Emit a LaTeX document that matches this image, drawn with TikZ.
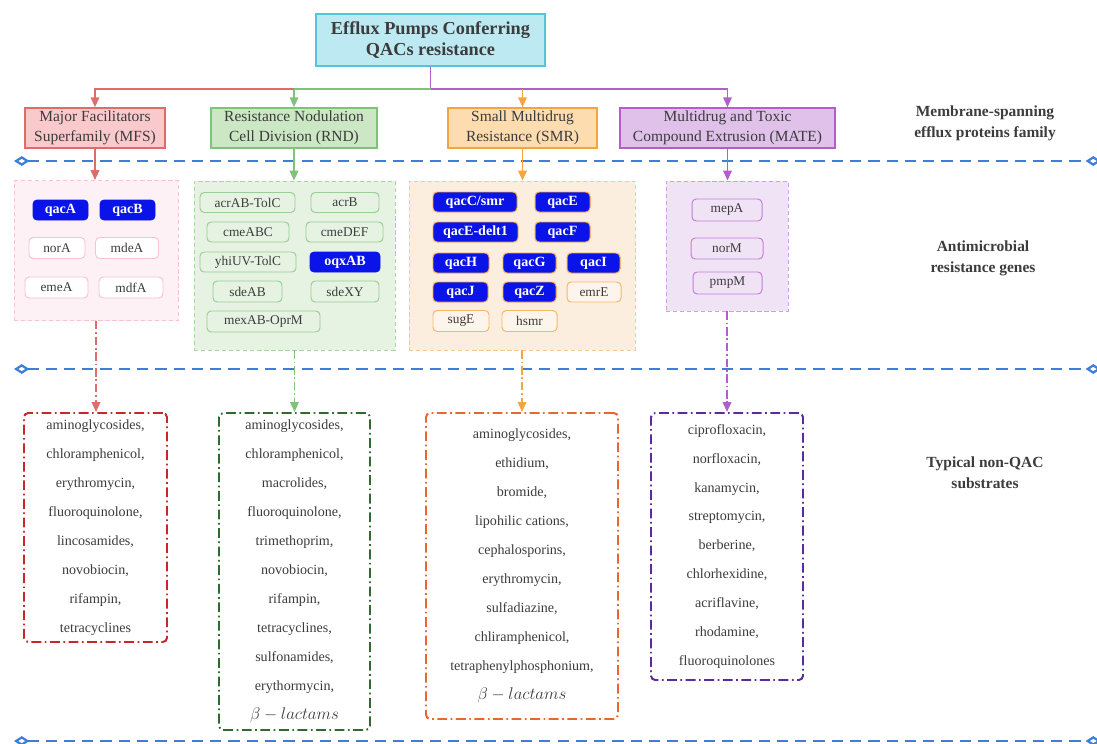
\documentclass[tikz,border=0pt]{standalone}
\usepackage{fontspec}
\setmainfont{Liberation Serif}
\usetikzlibrary{arrows.meta,calc,positioning}

\definecolor{txt}{HTML}{3C3C3C}
\definecolor{sepblue}{HTML}{3D7FD6}
\definecolor{titlefill}{HTML}{BDEAF2}
\definecolor{titleline}{HTML}{4FC6D9}
\definecolor{mfsfill}{HTML}{F9C9CC}
\definecolor{mfsline}{HTML}{E06B6B}
\definecolor{rndfill}{HTML}{CBE7C4}
\definecolor{rndline}{HTML}{7FC27A}
\definecolor{smrfill}{HTML}{FDDCB0}
\definecolor{smrline}{HTML}{F5A53F}
\definecolor{matefill}{HTML}{DFC1EA}
\definecolor{mateline}{HTML}{B25FCC}
\definecolor{mfsgfill}{HTML}{FDF1F5}
\definecolor{mfsgline}{HTML}{F7C3D3}
\definecolor{rndgfill}{HTML}{E6F3E2}
\definecolor{rndgline}{HTML}{A8D6A0}
\definecolor{smrgfill}{HTML}{FBEEDF}
\definecolor{smrgline}{HTML}{F8C88F}
\definecolor{mategfill}{HTML}{F1E3F6}
\definecolor{mategline}{HTML}{D2A0E0}
\definecolor{hitblue}{HTML}{0A14E8}
\definecolor{mfssub}{HTML}{C62828}
\definecolor{rndsub}{HTML}{2E6B30}
\definecolor{smrsub}{HTML}{E8672D}
\definecolor{matesub}{HTML}{5B2A9E}

\begin{document}
\begin{tikzpicture}[x=0.025cm, y=-0.025cm,
  >={Triangle[length=7pt,width=6pt]},
  size/.style 2 args={minimum width=#1*0.025cm, minimum height=#2*0.025cm},
  fam/.style={draw, line width=1.1pt, align=center, inner sep=0pt, text=txt,
    font=\fontsize{11}{14}\selectfont},
  grp/.style={draw, line width=0.6pt, dash pattern=on 3pt off 2pt, inner sep=0pt},
  gene/.style={draw, rounded corners=3pt, line width=0.7pt, inner sep=0pt, text=txt,
    font=\fontsize{9.5}{11}\selectfont},
  hit/.style={gene, fill=hitblue, draw=hitblue, text=white,
    font=\bfseries\fontsize{10}{11}\selectfont},
  sub/.style={draw, line width=1.4pt, rounded corners=3pt, align=center, inner sep=0pt,
    text=txt, dash pattern=on 7pt off 2.5pt on 1.2pt off 2.5pt,
    font=\fontsize{10}{20.6}\selectfont},
  sep/.style={draw=sepblue, line width=1.6pt, dash pattern=on 8pt off 5pt,
    {Diamond[open,length=11pt,width=7pt]}-{Diamond[open,length=11pt,width=7pt]}},
  conn/.style={line width=1.3pt},
  dashdot/.style={line width=1.2pt, dash pattern=on 6pt off 2pt on 1.2pt off 2pt},
  side/.style={align=center, text=txt, font=\bfseries\fontsize{11}{15}\selectfont}]

  \useasboundingbox (0,0) rectangle (1097,743);

  % Title
  \node[draw=titleline, fill=titlefill, line width=1.1pt, size={229}{52}, align=center,
    text=txt, font=\bfseries\fontsize{13}{15.5}\selectfont]
    (title) at (430.5,40) {Efflux Pumps Conferring\\QACs resistance};

  % Protein families
  \node[fam, draw=mfsline, fill=mfsfill, size={140}{40}] (mfs) at (95,128)
    {Major Facilitators\\Superfamily (MFS)};
  \node[fam, draw=rndline, fill=rndfill, size={166}{40}] (rnd) at (294,128)
    {Resistance Nodulation\\Cell Division (RND)};
  \node[fam, draw=smrline, fill=smrfill, size={149}{40}] (smr) at (522.5,128)
    {Small Multidrug\\Resistance (SMR)};
  \node[fam, draw=mateline, fill=matefill, size={215}{40}] (mate) at (727.5,128)
    {Multidrug and Toxic\\Compound Extrusion (MATE)};

  % Title to families
  \coordinate (jn) at ($(title.south)+(0,22)$);
  \draw[conn, mateline] (title.south) -- (jn);
  \draw[conn, mateline, ->] (jn) -| (mate.north);
  \draw[conn, rndline, ->] (jn) -| (rnd.north);
  \draw[conn, mfsline, ->] (jn -| rnd.north) -| (mfs.north);
  \draw[conn, smrline, ->] (jn -| smr.north) -- (smr.north);

  % Layer separators
  \coordinate (s1l) at (14,161);   \coordinate (s1r) at (1101,161);
  \coordinate (s2l) at (14,369);   \coordinate (s2r) at (1101,369);
  \coordinate (s3l) at (14,741);   \coordinate (s3r) at (1101,741);
  \draw[sep] (s1l) -- (s1r);
  \draw[sep] (s2l) -- (s2r);
  \draw[sep] (s3l) -- (s3r);

  % Side labels
  \node[side] (lab1) at (985,123) {Membrane-spanning\\efflux proteins family};
  \node[side] (lab2) at (983,258) {Antimicrobial\\resistance genes};
  \node[side] (lab3) at (985,473) {Typical non-QAC\\substrates};

  % Gene groups
  \node[grp, draw=mfsgline, fill=mfsgfill, size={164}{140}] (mfsg) at (96,250.5) {};
  \node[grp, draw=rndgline, fill=rndgfill, size={201}{169}] (rndg) at (294.5,265.5) {};
  \node[grp, draw=smrgline, fill=smrgfill, size={226}{169}] (smrg) at (522,265.5) {};
  \node[grp, draw=mategline, fill=mategfill, size={122}{130}] (mateg) at (727,246) {};

  \draw[conn, mfsline, ->] (mfs.south) -- (mfs.south |- mfsg.north);
  \draw[conn, rndline, ->] (rnd.south) -- (rnd.south |- rndg.north);
  \draw[conn, smrline, ->] (smr.south) -- (smr.south |- smrg.north);
  \draw[conn, mateline, ->] (mate.south) -- (mate.south |- mateg.north);

  % MFS genes
  \node[hit, size={55}{20}] (qacA) at (60.5,210) {qacA};
  \node[hit, size={55}{20}] (qacB) at (127.5,210) {qacB};
  \node[gene, draw=mfsgline, fill=white, size={56}{21}] (norA) at (57,248) {norA};
  \node[gene, draw=mfsgline, fill=white, size={63}{21}] (mdeA) at (127,248) {mdeA};
  \node[gene, draw=mfsgline, fill=white, size={63}{21}] (emeA) at (56.5,287.5) {emeA};
  \node[gene, draw=mfsgline, fill=white, size={64}{21}] (mdfA) at (131,287.5) {mdfA};

  % RND genes
  \tikzset{rndgene/.style={gene, draw=rndline!80, fill=rndgfill}}
  \node[rndgene, size={95}{20}] (acrAB) at (247.5,202.5) {acrAB-TolC};
  \node[rndgene, size={68}{20}] (acrB) at (345,202.5) {acrB};
  \node[rndgene, size={82}{20}] (cmeABC) at (248,232) {cmeABC};
  \node[rndgene, size={77}{20}] (cmeDEF) at (344.5,232) {cmeDEF};
  \node[rndgene, size={96}{20}] (yhiUV) at (248,262) {yhiUV-TolC};
  \node[hit, size={70}{20}] (oqxAB) at (345,262) {oqxAB};
  \node[rndgene, size={69}{21}] (sdeAB) at (247.5,291.5) {sdeAB};
  \node[rndgene, size={68}{21}] (sdeXY) at (345,291.5) {sdeXY};
  \node[rndgene, size={113}{21}] (mexAB) at (263.5,321.5) {mexAB-OprM};

  % SMR genes
  \tikzset{smrhit/.style={hit, draw=smrline},
           smrgene/.style={gene, draw=smrline!80, fill=smrgfill!60}}
  \node[smrhit, size={84}{20}] (qacC) at (475,202) {qacC/smr};
  \node[smrhit, size={55}{20}] (qacE) at (562.5,202) {qacE};
  \node[smrhit, size={85}{20}] (qacEd) at (475.5,232) {qacE-delt1};
  \node[smrhit, size={55}{20}] (qacF) at (562.5,232) {qacF};
  \node[smrhit, size={56}{20}] (qacH) at (461,263) {qacH};
  \node[smrhit, size={53}{20}] (qacG) at (529.5,263) {qacG};
  \node[smrhit, size={53}{20}] (qacI) at (593.5,263) {qacI};
  \node[smrhit, size={55}{20}] (qacJ) at (460.5,292) {qacJ};
  \node[smrhit, size={53}{20}] (qacZ) at (529.5,292) {qacZ};
  \node[smrgene, size={54}{20}] (emrE) at (594,292) {emrE};
  \node[smrgene, size={56}{21}] (sugE) at (461,321) {sugE};
  \node[smrgene, size={55}{21}] (hsmr) at (529.5,321) {hsmr};

  % MATE genes
  \tikzset{mategene/.style={gene, draw=mateline!80, fill=mategfill}}
  \node[mategene, size={70}{22}] (mepA) at (727,210) {mepA};
  \node[mategene, size={72}{21}] (norM) at (727,248.5) {norM};
  \node[mategene, size={69}{22}] (pmpM) at (727.5,283) {pmpM};

  % Substrates
  \node[sub, draw=mfssub, size={143}{229}] (mfss) at (95.5,527.5)
    {aminoglycosides,\\chloramphenicol,\\erythromycin,\\fluoroquinolone,\\
     lincosamides,\\novobiocin,\\rifampin,\\tetracyclines};
  \node[sub, draw=rndsub, size={151}{317}] (rnds) at (294.5,571.5)
    {aminoglycosides,\\chloramphenicol,\\macrolides,\\fluoroquinolone,\\
     trimethoprim,\\novobiocin,\\rifampin,\\tetracyclines,\\sulfonamides,\\
     erythormycin,\\{\fontsize{12.5}{20.6}\selectfont$\beta-lactams$}};
  \node[sub, draw=smrsub, size={192}{306}] (smrs) at (522,566)
    {aminoglycosides,\\ethidium,\\bromide,\\lipohilic cations,\\cephalosporins,\\
     erythromycin,\\sulfadiazine,\\chliramphenicol,\\tetraphenylphosphonium,\\
     {\fontsize{12.5}{20.6}\selectfont$\beta-lactams$}};
  \node[sub, draw=matesub, size={152}{267}] (mates) at (727,546.5)
    {ciprofloxacin,\\norfloxacin,\\kanamycin,\\streptomycin,\\berberine,\\
     chlorhexidine,\\acriflavine,\\rhodamine,\\fluoroquinolones};

  \draw[dashdot, mfsline, ->] (mfsg.south) -- (mfsg.south |- mfss.north);
  \draw[dashdot, rndline, ->] (rndg.south) -- (rndg.south |- rnds.north);
  \draw[dashdot, smrline, ->] (smrg.south) -- (smrg.south |- smrs.north);
  \draw[dashdot, mateline, ->] (mateg.south) -- (mateg.south |- mates.north);

\end{tikzpicture}
\end{document}
